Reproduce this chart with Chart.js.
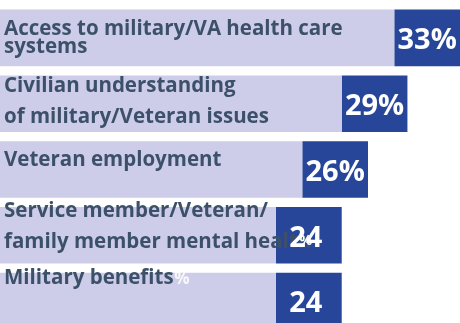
<!DOCTYPE html>
<html>
<head>
<meta charset="utf-8">
<script src="https://cdn.jsdelivr.net/npm/chart.js@4"></script>
<style>
  html, body { margin: 0; padding: 0; background: #fff; overflow: hidden; }
  #wrap { width: 460px; height: 323px; overflow: hidden; }
</style>
</head>
<body>
<div id="wrap"><canvas id="issues-chart" width="460" height="340"></canvas></div>
<script>
// top concerns, share of respondents (%)
const categories = [
  ['Access to military/VA health care', 'systems'],
  ['Civilian understanding', 'of military/Veteran issues'],
  ['Veteran employment'],
  ['Service member/Veteran/', 'family member mental health'],
  ['Military benefits']
];
const shares = [33, 29, 26, 24, 24];

const axisMin = -2;
const axisMax = 33;
const capWidth = 5; // dark end piece of each bar, in % units

const lightPart = shares.map(v => [axisMin, v - capWidth]);
const darkPart = shares.map(v => [v - capWidth, v]);

// where the category text sits inside each bar: first baseline offset, line gap
const textLayout = [[25, 18], [17, 31], [25, 0], [10, 31], [11, 0]];

const labelsPlugin = {
  id: 'barLabels',
  afterDatasetsDraw(chart) {
    const ctx = chart.ctx;
    const dark = chart.getDatasetMeta(1).data;
    ctx.save();
    dark.forEach((bar, i) => {
      const top = bar.y - bar.height / 2;
      // category text
      ctx.fillStyle = '#3c5169';
      ctx.font = 'bold 20.5px "Open Sans"';
      ctx.textAlign = 'left';
      ctx.textBaseline = 'alphabetic';
      const [first, gap] = textLayout[i];
      categories[i].forEach((line, j) => {
        ctx.fillText(line, 4, top + first + j * gap);
      });

      // value text centred on the dark piece
      const cx = (bar.x + bar.base) / 2;
      const cy = bar.y + 3;
      ctx.fillStyle = '#ffffff';
      ctx.textBaseline = 'middle';
      ctx.textAlign = 'center';
      ctx.font = 'bold 29px "Open Sans"';
      if (i < 3) {
        ctx.fillText(shares[i] + '%', cx, cy);
      } else {
        ctx.fillText(String(shares[i]), cx - 3, cy);
        ctx.font = 'bold 14px "Open Sans"';
        if (i === 3) {
          ctx.fillText('%', cx - 3, cy + 3);
        } else {
          ctx.globalAlpha = 0.85;
          ctx.font = 'bold 17px "Open Sans"';
          ctx.fillText('%', 182, top + 6);
          ctx.globalAlpha = 1;
        }
      }
    });
    ctx.restore();
  }
};

new Chart(document.getElementById('issues-chart'), {
  type: 'bar',
  data: {
    labels: categories,
    datasets: [{
      data: lightPart,
      backgroundColor: '#cdcdea',
      borderWidth: 0,
      grouped: false
    }, {
      data: darkPart,
      backgroundColor: '#27469a',
      borderWidth: 0,
      grouped: false
    }]
  },
  options: {
    indexAxis: 'y',
    responsive: false,
    animation: false,
    layout: { padding: { top: 5, bottom: 6, left: 0, right: 0 } },
    datasets: {
      bar: { barPercentage: 1, categoryPercentage: 0.86 }
    },
    scales: {
      x: { display: false, min: axisMin, max: axisMax },
      y: { display: false }
    },
    plugins: {
      legend: { display: false },
      tooltip: { enabled: false }
    }
  },
  plugins: [labelsPlugin]
});
</script>
</body>
</html>
